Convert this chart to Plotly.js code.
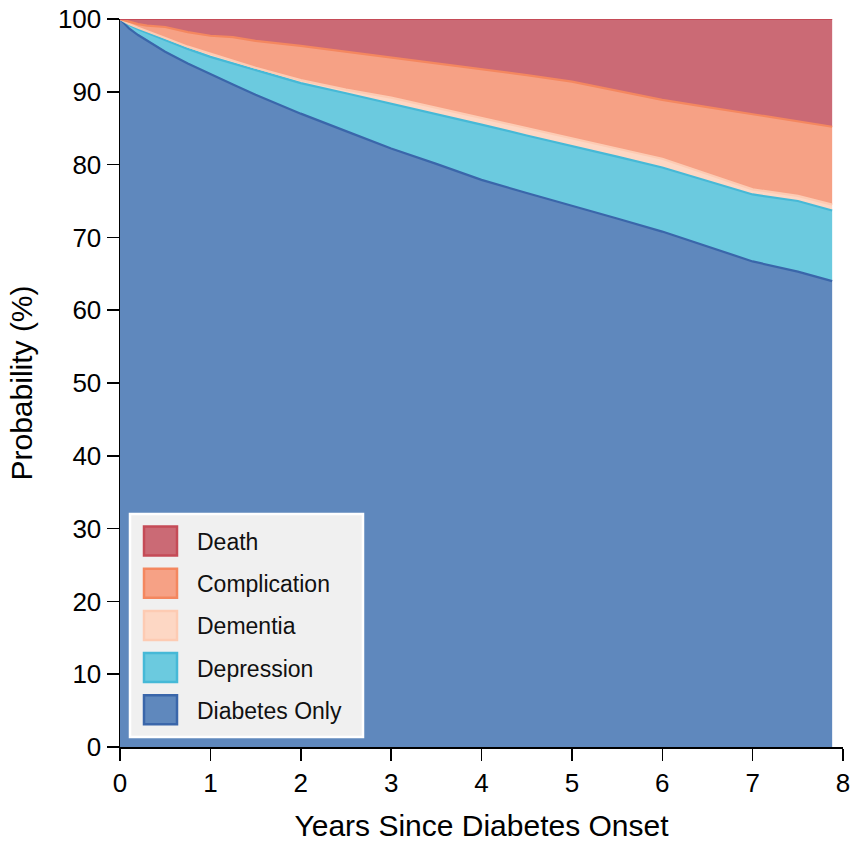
<!DOCTYPE html>
<html>
<head>
<meta charset="utf-8">
<script src="https://cdn.plot.ly/plotly-3.0.1.min.js"></script>
<style>html,body{margin:0;padding:0;background:#fff;}#chart{width:851px;height:842px;}</style>
</head>
<body>
<div id="chart"></div>
<script>
// Years since diabetes onset
const years = [0, 0.05, 0.1, 0.2, 0.3, 0.5, 0.75, 1, 1.25, 1.5, 2, 2.5, 3, 3.5, 4, 4.5, 5, 5.5, 6, 6.5, 7, 7.5, 7.88];
// State probabilities (%)
const diabetesOnly = [100, 99.3, 98.7, 97.8, 97.0, 95.5, 93.9, 92.4, 91.0, 89.6, 87.0, 84.6, 82.2, 80.1, 77.9, 76.1, 74.4, 72.6, 70.8, 68.7, 66.7, 65.3, 64.0];
const depression   = [0, 0.3, 0.5, 0.8, 1.1, 1.6, 2.0, 2.4, 2.9, 3.3, 4.2, 5.2, 6.2, 6.9, 7.6, 7.9, 8.2, 8.5, 8.8, 9.1, 9.2, 9.7, 9.7];
const dementia     = [0, 0.0, 0.1, 0.2, 0.2, 0.3, 0.3, 0.4, 0.4, 0.4, 0.4, 0.5, 0.8, 0.8, 0.9, 0.9, 0.9, 1.1, 1.2, 0.9, 0.7, 0.7, 0.8];
const complication = [0, 0.2, 0.3, 0.5, 0.8, 1.5, 2.0, 2.5, 3.2, 3.7, 4.7, 5.2, 5.5, 6.1, 6.8, 7.4, 7.9, 7.9, 8.1, 9.2, 10.3, 10.3, 10.7];
const death        = [0, 0.2, 0.4, 0.7, 0.9, 1.1, 1.8, 2.3, 2.5, 3.0, 3.7, 4.5, 5.3, 6.1, 6.8, 7.7, 8.6, 9.9, 11.1, 12.1, 13.1, 14.0, 14.8];

const stateNames = ['Diabetes Only', 'Depression', 'Dementia', 'Complication', 'Death'];
const stateValues = [diabetesOnly, depression, dementia, complication, death];
const fillColors = ['#5f88bd', '#6bcadf', '#fdd7c4', '#f6a185', '#cb6a75'];
const lineColors = ['#3a66aa', '#46b9d7', '#fdcbb3', '#f4875f', '#c54b57'];

const traces = stateNames.map((name, i) => ({
  type: 'scatter',
  mode: 'lines',
  name: name,
  x: years,
  y: stateValues[i],
  stackgroup: 'one',
  fillcolor: fillColors[i],
  line: {color: lineColors[i], width: 2.2},
  showlegend: false,
  hoverinfo: 'x+y+name'
}));

// Plot area in pixels (for the hand-built legend box)
const L = 120, R = 8, T = 19, B = 95, W = 851, H = 842;
const pw = W - L - R, ph = H - T - B;
const px = v => (v - L) / pw;
const py = v => (H - B - v) / ph;

const shapes = [{
  type: 'rect', xref: 'paper', yref: 'paper',
  x0: px(130), x1: px(363), y0: py(737), y1: py(514),
  fillcolor: '#f0f0f0', line: {color: '#ffffff', width: 2.5}
}];
const annotations = [];
const font = 'Liberation Sans, Arial, Helvetica, sans-serif';
const legendOrder = [4, 3, 2, 1, 0];
legendOrder.forEach((idx, k) => {
  const cy = 541 + k * 42.2;
  shapes.push({
    type: 'rect', xref: 'paper', yref: 'paper',
    x0: px(144), x1: px(177), y0: py(cy + 14.5), y1: py(cy - 14.5),
    fillcolor: fillColors[idx], line: {color: lineColors[idx], width: 2.5}
  });
  annotations.push({
    xref: 'paper', yref: 'paper', x: px(195), y: py(cy + 1),
    xanchor: 'left', yanchor: 'middle', showarrow: false,
    text: stateNames[idx], font: {family: font, size: 23, color: '#111'}
  });
});

const layout = {
  width: W,
  height: H,
  margin: {l: L, r: R, t: T, b: B},
  paper_bgcolor: '#ffffff',
  plot_bgcolor: '#ffffff',
  font: {family: font, color: '#000'},
  showlegend: false,
  shapes: shapes,
  annotations: annotations,
  xaxis: {
    range: [0, 8],
    tickvals: [0, 1, 2, 3, 4, 5, 6, 7, 8],
    ticks: 'outside', ticklen: 12, tickwidth: 1.5, tickcolor: '#000',
    showline: true, linecolor: '#000', linewidth: 1.5,
    showgrid: false, zeroline: false,
    tickfont: {family: font, size: 26, color: '#000'},
    title: {text: 'Years Since Diabetes Onset', font: {family: font, size: 30, color: '#000'}, standoff: 18}
  },
  yaxis: {
    range: [0, 100],
    tickvals: [0, 10, 20, 30, 40, 50, 60, 70, 80, 90, 100],
    ticks: 'outside', ticklen: 12, tickwidth: 1.5, tickcolor: '#000',
    showline: true, linecolor: '#000', linewidth: 1.5,
    showgrid: false, zeroline: false,
    tickfont: {family: font, size: 26, color: '#000'},
    title: {text: 'Probability (%)', font: {family: font, size: 30, color: '#000'}, standoff: 16}
  }
};

Plotly.newPlot('chart', traces, layout, {displayModeBar: false, staticPlot: true});
</script>
</body>
</html>
